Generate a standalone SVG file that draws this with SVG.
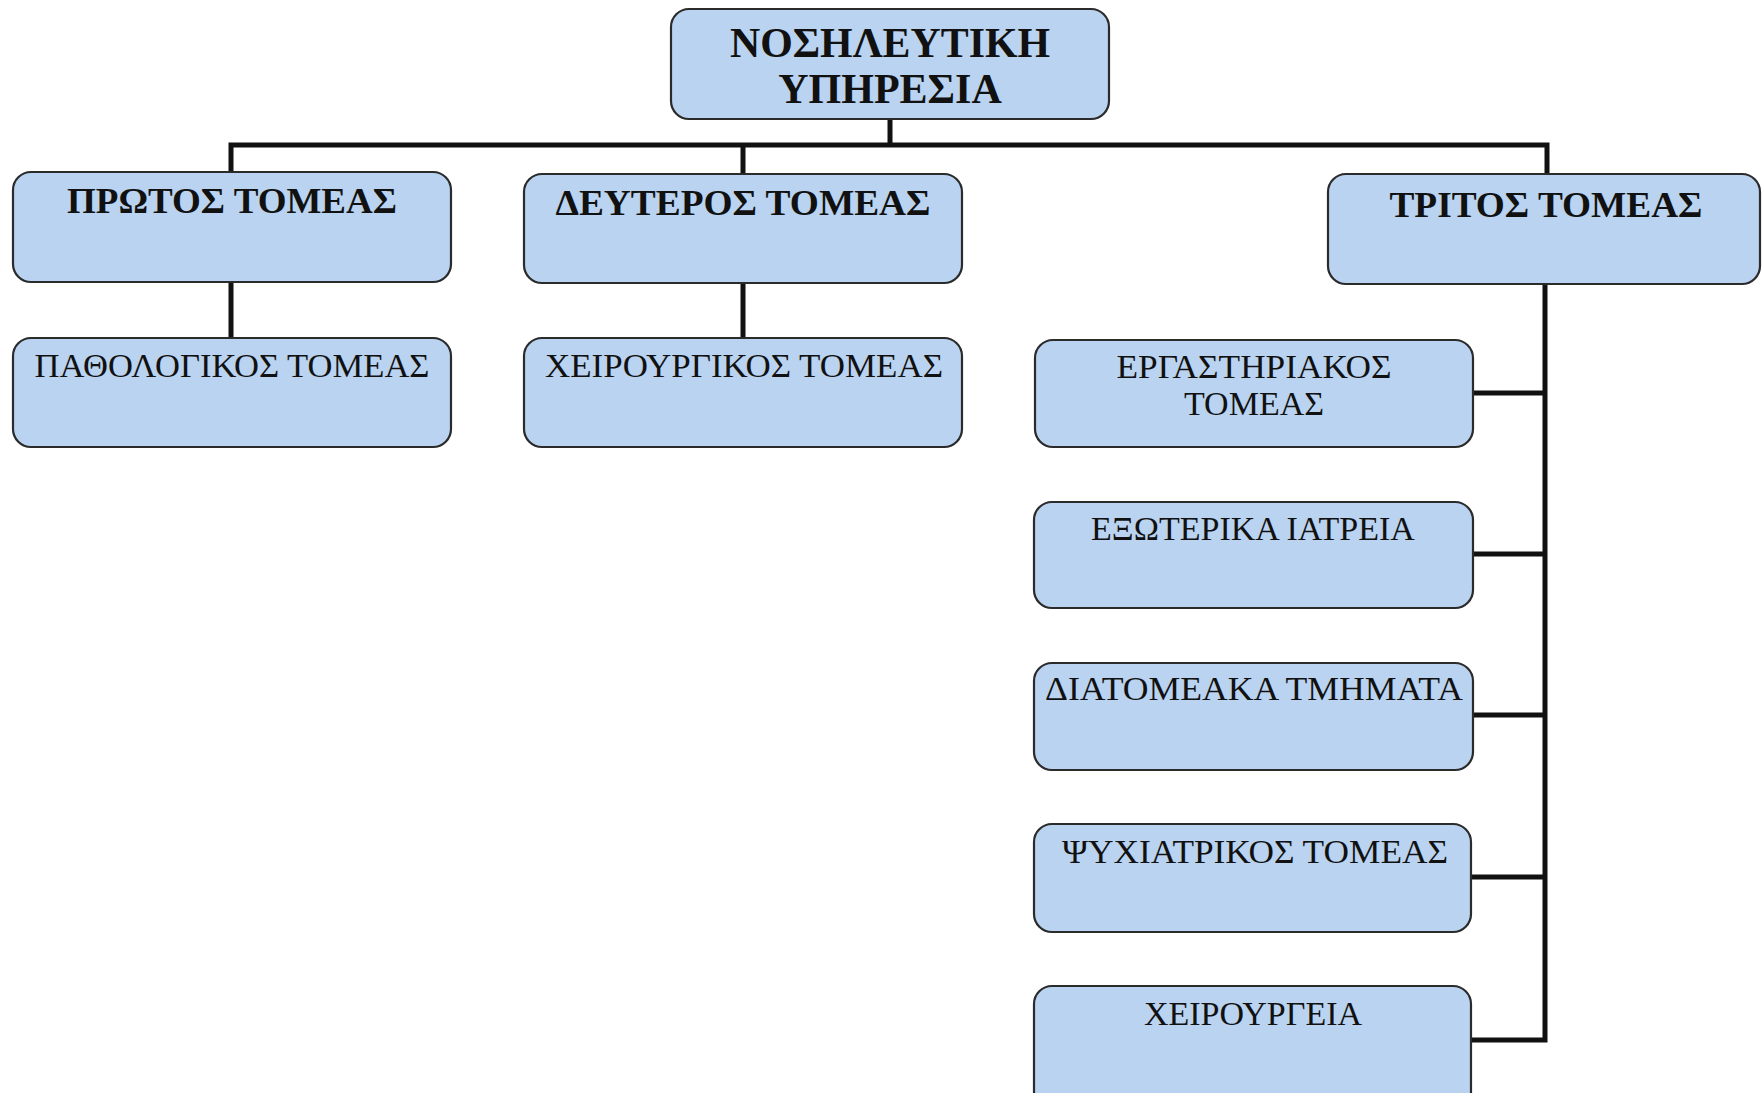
<svg xmlns="http://www.w3.org/2000/svg" width="1762" height="1093" viewBox="0 0 1762 1093">
<style>
.box{fill:#b9d3f0;stroke:#2b2b2b;stroke-width:2.2}
.t{font-family:"Liberation Serif","Times New Roman",serif;fill:#111;text-anchor:middle}
.b{font-weight:bold}
.conn{stroke:#111;stroke-width:5;fill:none}
</style>
<rect width="1762" height="1093" fill="#ffffff"/>
<g id="connectors">
<path class="conn" d="M890,119 V145"/>
<path class="conn" d="M231,172 V145 H1547 V174"/>
<path class="conn" d="M743,145 V174"/>
<path class="conn" d="M231,282 V338"/>
<path class="conn" d="M743,283 V338"/>
<path class="conn" d="M1545,284 V1040 H1471"/>
<path class="conn" d="M1473,393 H1545"/>
<path class="conn" d="M1473,554 H1545"/>
<path class="conn" d="M1473,715 H1545"/>
<path class="conn" d="M1471,877 H1545"/>
</g>
<g id="n-root">
<rect class="box" x="671" y="9" width="438" height="110" rx="18"/>
<text class="t b" x="890" y="57" font-size="42" textLength="320" lengthAdjust="spacingAndGlyphs">ΝΟΣΗΛΕΥΤΙΚΗ</text>
<text class="t b" x="890" y="103" font-size="42">ΥΠΗΡΕΣΙΑ</text>
</g>
<g id="n-protos">
<rect class="box" x="13" y="172" width="438" height="110" rx="18"/>
<text class="t b" x="232" y="213" font-size="36" textLength="330" lengthAdjust="spacingAndGlyphs">ΠΡΩΤΟΣ ΤΟΜΕΑΣ</text>
</g>
<g id="n-defteros">
<rect class="box" x="524" y="174" width="438" height="109" rx="18"/>
<text class="t b" x="743" y="215" font-size="36" textLength="375" lengthAdjust="spacingAndGlyphs">ΔΕΥΤΕΡΟΣ ΤΟΜΕΑΣ</text>
</g>
<g id="n-tritos">
<rect class="box" x="1328" y="174" width="432" height="110" rx="18"/>
<text class="t b" x="1546" y="217" font-size="36" textLength="313" lengthAdjust="spacingAndGlyphs">ΤΡΙΤΟΣ ΤΟΜΕΑΣ</text>
</g>
<g id="n-pathologikos">
<rect class="box" x="13" y="338" width="438" height="109" rx="18"/>
<text class="t" x="232" y="377" font-size="34" textLength="395" lengthAdjust="spacingAndGlyphs">ΠΑΘΟΛΟΓΙΚΟΣ ΤΟΜΕΑΣ</text>
</g>
<g id="n-cheirourgikos">
<rect class="box" x="524" y="338" width="438" height="109" rx="18"/>
<text class="t" x="744" y="377" font-size="34" textLength="398" lengthAdjust="spacingAndGlyphs">ΧΕΙΡΟΥΡΓΙΚΟΣ ΤΟΜΕΑΣ</text>
</g>
<g id="n-ergastiriakos">
<rect class="box" x="1035" y="340" width="438" height="107" rx="18"/>
<text class="t" x="1254" y="378" font-size="34" textLength="275" lengthAdjust="spacingAndGlyphs">ΕΡΓΑΣΤΗΡΙΑΚΟΣ</text>
<text class="t" x="1254" y="415" font-size="34">ΤΟΜΕΑΣ</text>
</g>
<g id="n-exoterika">
<rect class="box" x="1034" y="502" width="439" height="106" rx="18"/>
<text class="t" x="1253" y="540" font-size="34">ΕΞΩΤΕΡΙΚΑ ΙΑΤΡΕΙΑ</text>
</g>
<g id="n-diatomeaka">
<rect class="box" x="1034" y="663" width="439" height="107" rx="18"/>
<text class="t" x="1254" y="700" font-size="34" textLength="418" lengthAdjust="spacingAndGlyphs">ΔΙΑΤΟΜΕΑΚΑ ΤΜΗΜΑΤΑ</text>
</g>
<g id="n-psychiatrikos">
<rect class="box" x="1034" y="824" width="437" height="108" rx="18"/>
<text class="t" x="1255" y="863" font-size="34" textLength="386" lengthAdjust="spacingAndGlyphs">ΨΥΧΙΑΤΡΙΚΟΣ ΤΟΜΕΑΣ</text>
</g>
<g id="n-cheirourgeia">
<rect class="box" x="1034" y="986" width="437" height="130" rx="18"/>
<text class="t" x="1253" y="1025" font-size="34">ΧΕΙΡΟΥΡΓΕΙΑ</text>
</g>
</svg>
